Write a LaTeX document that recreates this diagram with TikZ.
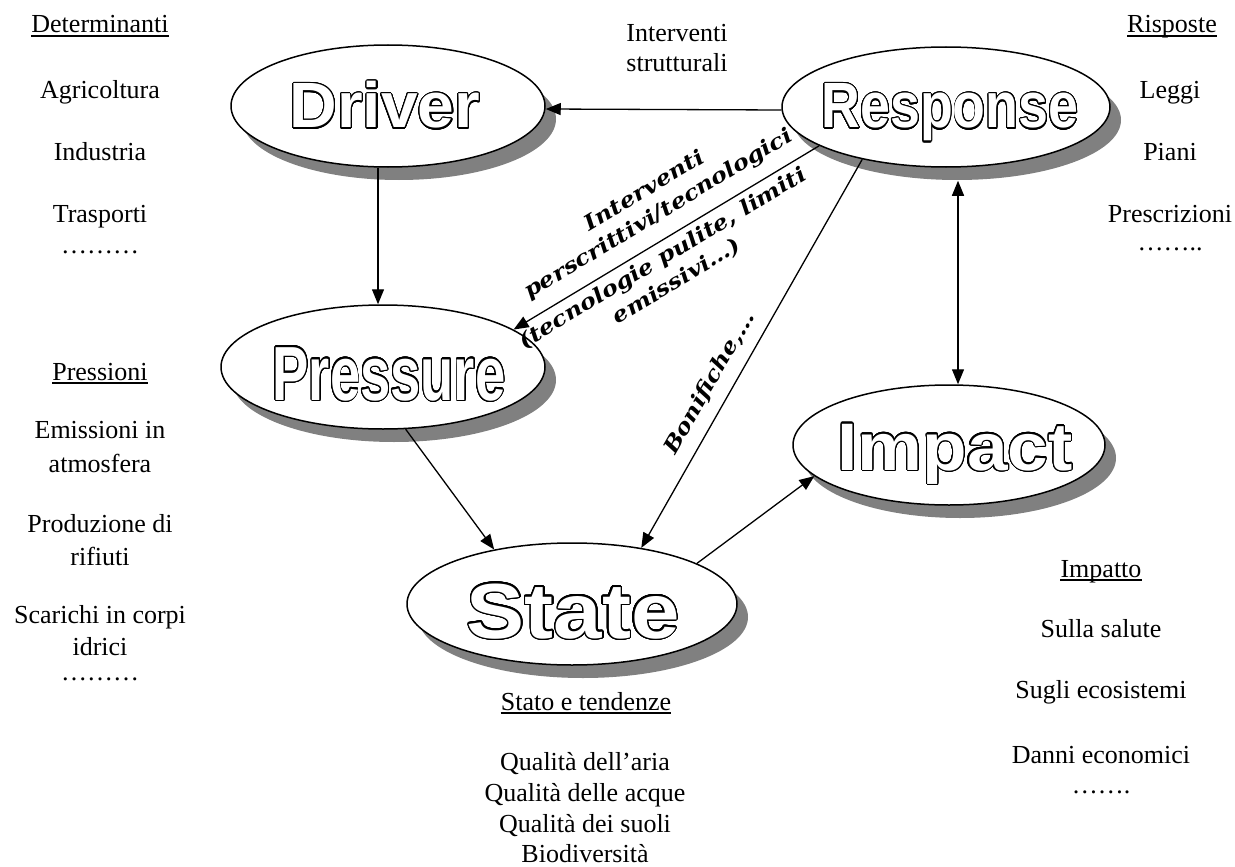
\documentclass[tikz,border=0pt]{standalone}
\usepackage{fontspec}
\setmainfont{Liberation Serif}
\newfontfamily\wordfont{Liberation Sans}
\newfontfamily\notefont{DejaVu Serif}[FakeStretch=1.15]
\usepackage{graphicx}
\usepackage{contour}
\contourlength{1.1pt}
\contournumber{32}
\usetikzlibrary{shapes.geometric,shadows,arrows.meta}
\definecolor{shadowgray}{RGB}{128,128,128}

% hollow lettering: white letters with a black outline, stretched by #1 x #2
\newcommand\hollow[3]{\textcolor{white}{\scalebox{#1}[#2]{\contour{black}{#3}}}}

\begin{document}
\begin{tikzpicture}[x=1pt,y=-1pt,
  bub/.style={ellipse, draw=black, line width=1.5pt, fill=white, inner sep=0pt,
    general shadow={fill=shadowgray, shadow xshift=11pt, shadow yshift=-13pt}},
  word/.style={font=\wordfont\bfseries\fontsize{64}{70}\selectfont, inner sep=0pt, anchor=base},
  txt/.style={font=\fontsize{26}{30}\selectfont, inner sep=0pt, anchor=base},
  note/.style={font=\notefont\bfseries\itshape\fontsize{21}{27}\selectfont, inner sep=0pt, align=center},
  ul/.style={line width=1.6pt},
  arr/.style={line width=1.3pt, -{Triangle[length=15pt,width=12pt]}},
  arrboth/.style={line width=1.3pt, {Triangle[length=15pt,width=12pt]}-{Triangle[length=15pt,width=12pt]}}]

\useasboundingbox (0,0) rectangle (1235,867);

% the five DPSIR bubbles
\node[bub, minimum width=314pt, minimum height=122pt] (drv) at (388,106) {};
\node[bub, minimum width=328pt, minimum height=120pt] (rsp) at (946,107) {};
\node[bub, minimum width=324pt, minimum height=124pt] (prs) at (383,367) {};
\node[bub, minimum width=312pt, minimum height=120pt] (imp) at (949,445) {};
\node[bub, minimum width=330pt, minimum height=122pt] (st)  at (572,604) {};

% connectors
\draw[arr] ([yshift=-3pt]rsp.west) -- ([yshift=-3pt]drv.east);
\draw[arr] ([xshift=-10pt]drv.south) -- ([xshift=-5pt]prs.north);
\draw[arr] (rsp.197) -- (prs.16);
\draw[arr] (rsp.212) -- (st.39);
\draw[arr] (prs.290) -- (st.145);
\draw[arr] (st.18) -- (imp.193);
\draw[arrboth] ([shift={(12pt,-13pt)}]rsp.south) -- ([xshift=9pt]imp.north);

% bubble titles
\node[word] (drvw) at (385,128) {\hollow{1.03}{1}{Driver}};
\node[word] (rspw) at (950,128) {\hollow{0.84}{1}{Response}};
\node[word] (prsw) at (389,400) {\hollow{0.85}{1.2}{Pressure}};
\node[word] (impw) at (955,470) {\hollow{1.14}{1.05}{Impact}};
\node[word] (stw)  at (573,638) {\hollow{1.36}{1.22}{State}};

% connector labels
\node[txt] (is1) at (677,42) {Interventi};
\node[txt] (is2) at (677,72) {strutturali};
\node[note, rotate=31] (ip1) at (652,203) {Interventi\\perscrittivi/tecnologici};
\node[note, rotate=31] (ip2) at (670,270) {(tecnologie pulite, limiti\\emissivi…)};
\node[note, rotate=60.2, font=\notefont\bfseries\itshape\fontsize{21}{26}\selectfont] (bon) at (710,383) {Bonifiche,…};

% determinanti
\node[txt] (det) at (100,33) {Determinanti};
\node[txt] (d1) at (100,99) {Agricoltura};
\node[txt] (d2) at (100,160) {Industria};
\node[txt] (d3) at (100,222) {Trasporti};
\node[txt] (d4) at (100,253) {………};
\draw[ul] ([yshift=-3pt]det.base west) -- ([yshift=-3pt]det.base east);

% pressioni
\node[txt] (pre) at (100,380) {Pressioni};
\node[txt] (p1) at (100,438) {Emissioni in};
\node[txt] (p2) at (100,472) {atmosfera};
\node[txt] (p3) at (100,532) {Produzione di};
\node[txt] (p4) at (100,565) {rifiuti};
\node[txt] (p5) at (100,623) {Scarichi in corpi};
\node[txt] (p6) at (100,655) {idrici};
\node[txt] (p7) at (100,680) {………};
\draw[ul] ([yshift=-3pt]pre.base west) -- ([yshift=-3pt]pre.base east);

% risposte
\node[txt] (ris) at (1172,33) {Risposte};
\node[txt] (r1) at (1170,99) {Leggi};
\node[txt] (r2) at (1170,160) {Piani};
\node[txt] (r3) at (1170,222) {Prescrizioni};
\node[txt] (r4) at (1170,250) {……..};
\draw[ul] ([yshift=-3pt]ris.base west) -- ([yshift=-3pt]ris.base east);

% impatto
\node[txt] (ipt) at (1101,577) {Impatto};
\node[txt] (m1) at (1101,637) {Sulla salute};
\node[txt] (m2) at (1101,698) {Sugli ecosistemi};
\node[txt] (m3) at (1101,763) {Danni economici};
\node[txt] (m4) at (1101,793) {…….};
\draw[ul] ([yshift=-3pt]ipt.base west) -- ([yshift=-3pt]ipt.base east);

% stato e tendenze
\node[txt] (sta) at (586,710) {Stato e tendenze};
\node[txt] (s1) at (585,770) {Qualità dell’aria};
\node[txt] (s2) at (585,801) {Qualità delle acque};
\node[txt] (s3) at (585,832) {Qualità dei suoli};
\node[txt] (s4) at (585,862) {Biodiversità};
\draw[ul] ([yshift=-3pt]sta.base west) -- ([yshift=-3pt]sta.base east);
\end{tikzpicture}
\end{document}
